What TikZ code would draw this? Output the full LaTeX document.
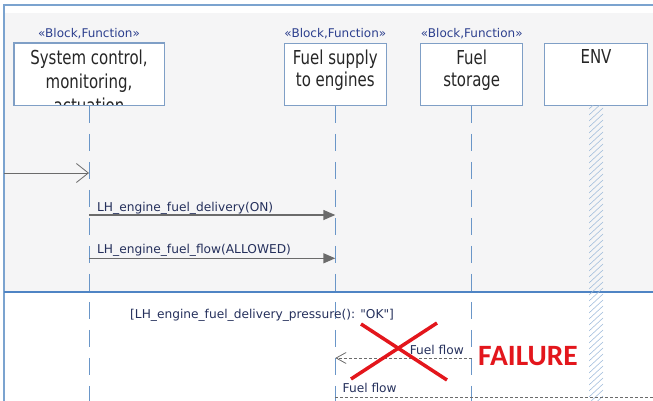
\documentclass[tikz,border=0pt]{standalone}
\usepackage{fontspec}
\setmainfont{DejaVu Sans}
\newfontfamily\labelfont{DejaVu Sans}
\newfontfamily\boxfont[FakeStretch=0.78]{DejaVu Sans}
\newfontfamily\failfont{Carlito}
\usetikzlibrary{arrows, arrows.meta, positioning}

\definecolor{frameblue}{HTML}{7BA3CF}
\definecolor{sepblue}{HTML}{4F84C4}
\definecolor{boxblue}{HTML}{7F9FC6}
\definecolor{lifeblue}{HTML}{6A96C8}
\definecolor{bggray}{HTML}{F5F5F6}
\definecolor{msggray}{HTML}{6B6B6B}
\definecolor{labelnavy}{HTML}{25305C}
\definecolor{stereoblue}{HTML}{2C3F8E}
\definecolor{failred}{HTML}{E3161C}

\tikzstyle{lifebox} = [rectangle, draw=boxblue, fill=white, line width=1pt, minimum height=62pt, inner sep=0pt]
\tikzstyle{stereotype} = [font=\labelfont\fontsize{12}{14}\selectfont, text=stereoblue, inner sep=0pt]
\tikzstyle{boxtext} = [font=\boxfont\fontsize{19.2}{22.5}\selectfont, align=center, text=black!85, inner sep=0pt]
\tikzstyle{lifeline} = [draw=lifeblue, line width=1pt, dash pattern=on 17pt off 11pt]
\tikzstyle{msg} = [draw=msggray, line width=1.4pt, -{Triangle[length=12pt,width=10pt]}]
\tikzstyle{found} = [draw=msggray, line width=0.8pt, -{Straight Barb[length=12pt,width=19pt]}]
\tikzstyle{reply} = [draw=msggray, line width=0.8pt, dash pattern=on 3pt off 2pt, -{Straight Barb[length=10pt,width=11pt]}]
\tikzstyle{flow} = [draw=msggray, line width=0.8pt, dash pattern=on 3pt off 2pt]
\tikzstyle{msglabel} = [font=\labelfont\fontsize{12.2}{14}\selectfont, text=labelnavy, inner sep=0pt]
\tikzstyle{hatch} = [draw=lifeblue!65, line width=0.55pt]
\tikzstyle{cross} = [draw=failred, line width=3.5pt]

\begin{document}
\begin{tikzpicture}[x=1pt, y=-1pt]
\useasboundingbox (0,0) rectangle (653,401);
% frame
\fill[bggray] (5,13) rectangle (653,291);
\draw[frameblue, line width=1.2pt] (4,401) -- (4,5) -- (653,5);
\draw[sepblue, line width=1.8pt] (4,292) -- (653,292);

% lifeline heads
\node (sys) [lifebox, minimum width=150pt] at (89,74.3) {};
\node (supply) [lifebox, minimum width=102.5pt] at (335.3,74.3) {};
\node (storage) [lifebox, minimum width=102pt] at (471.7,74.3) {};
\node (env) [lifebox, minimum width=103.3pt] at (596,74.3) {};

\node (sysst) [stereotype, above=3.5pt of sys] {«Block,Function»};
\node (supplyst) [stereotype, above=3.5pt of supply] {«Block,Function»};
\node (storagest) [stereotype, above=3.5pt of storage] {«Block,Function»};

\begin{scope}
\clip (sys.south west) rectangle (sys.north east);
\node (systext) [boxtext, anchor=north, font=\boxfont\fontsize{19.2}{24.2}\selectfont] at ([yshift=-6.5pt]sys.north) {System control,\\monitoring,\\actuation};
\end{scope}
\draw[boxblue, line width=1pt] (sys.south west) rectangle (sys.north east);
\node (supplytext) [boxtext, anchor=north] at ([yshift=-6.5pt]supply.north) {Fuel supply\\to engines};
\node (storagetext) [boxtext, anchor=north] at ([yshift=-6.5pt]storage.north) {Fuel\\storage};
\node (envtext) [boxtext, anchor=north] at ([yshift=-7pt]env.north) {ENV};

% lifelines
\coordinate (sysend) at (89,401);
\coordinate (supplyend) at (335.3,401);
\coordinate (storageend) at (471.7,401);
\draw[lifeline] (sys.south) -- (sysend);
\draw[lifeline] (supply.south) -- (supplyend);
\draw[lifeline] (storage.south) -- (storageend);
\begin{scope}
\clip (589,105.5) rectangle (603,401);
\foreach \y in {96,102,...,400}
  \draw[hatch] (589,\y+13) -- (603,\y);
\end{scope}

% messages
\coordinate (gate) at (4,173);
\coordinate (sysA) at (89,173);
\draw[found] (gate) -- (sysA);

\coordinate (sysB) at (89,215);
\coordinate (supplyB) at (335.3,215);
\draw[msg] (sysB) -- node (msgon) [msglabel, pos=0, anchor=base west, xshift=7.5pt, yshift=4pt] {LH\_engine\_fuel\_delivery(ON)} (supplyB);

\coordinate (sysC) at (89,258.3);
\coordinate (supplyC) at (335.3,258.3);
\draw[msg] (sysC) -- node (msgallowed) [msglabel, pos=0, anchor=base west, xshift=7.5pt, yshift=5pt] {LH\_engine\_fuel\_flow(ALLOWED)} (supplyC);

\node (guard) [msglabel, anchor=base west] at (130,318.5) {[LH\_engine\_fuel\_delivery\_pressure(): "OK"]};

\coordinate (storageD) at (471.7,358);
\coordinate (supplyD) at (335.3,358);
\draw[reply] (storageD) -- node (flowup) [msglabel, pos=0, anchor=base east, xshift=-7.5pt, yshift=3.7pt] {Fuel flow} (supplyD);

% failure
\draw[cross] (361,324) -- (447,380);
\draw[cross] (437,323) -- (351,379);
\node (failure) [anchor=base west, font=\failfont\bfseries\fontsize{29.5}{32}\selectfont, text=failred, inner sep=0pt] at (478,365) {FAILURE};

\coordinate (supplyE) at (335.3,397);
\coordinate (flowend) at (653,397);
\draw[flow] (supplyE) -- node (flowlow) [msglabel, pos=0, anchor=base west, xshift=7pt, yshift=4.3pt] {Fuel flow} (flowend);
\end{tikzpicture}
\end{document}
